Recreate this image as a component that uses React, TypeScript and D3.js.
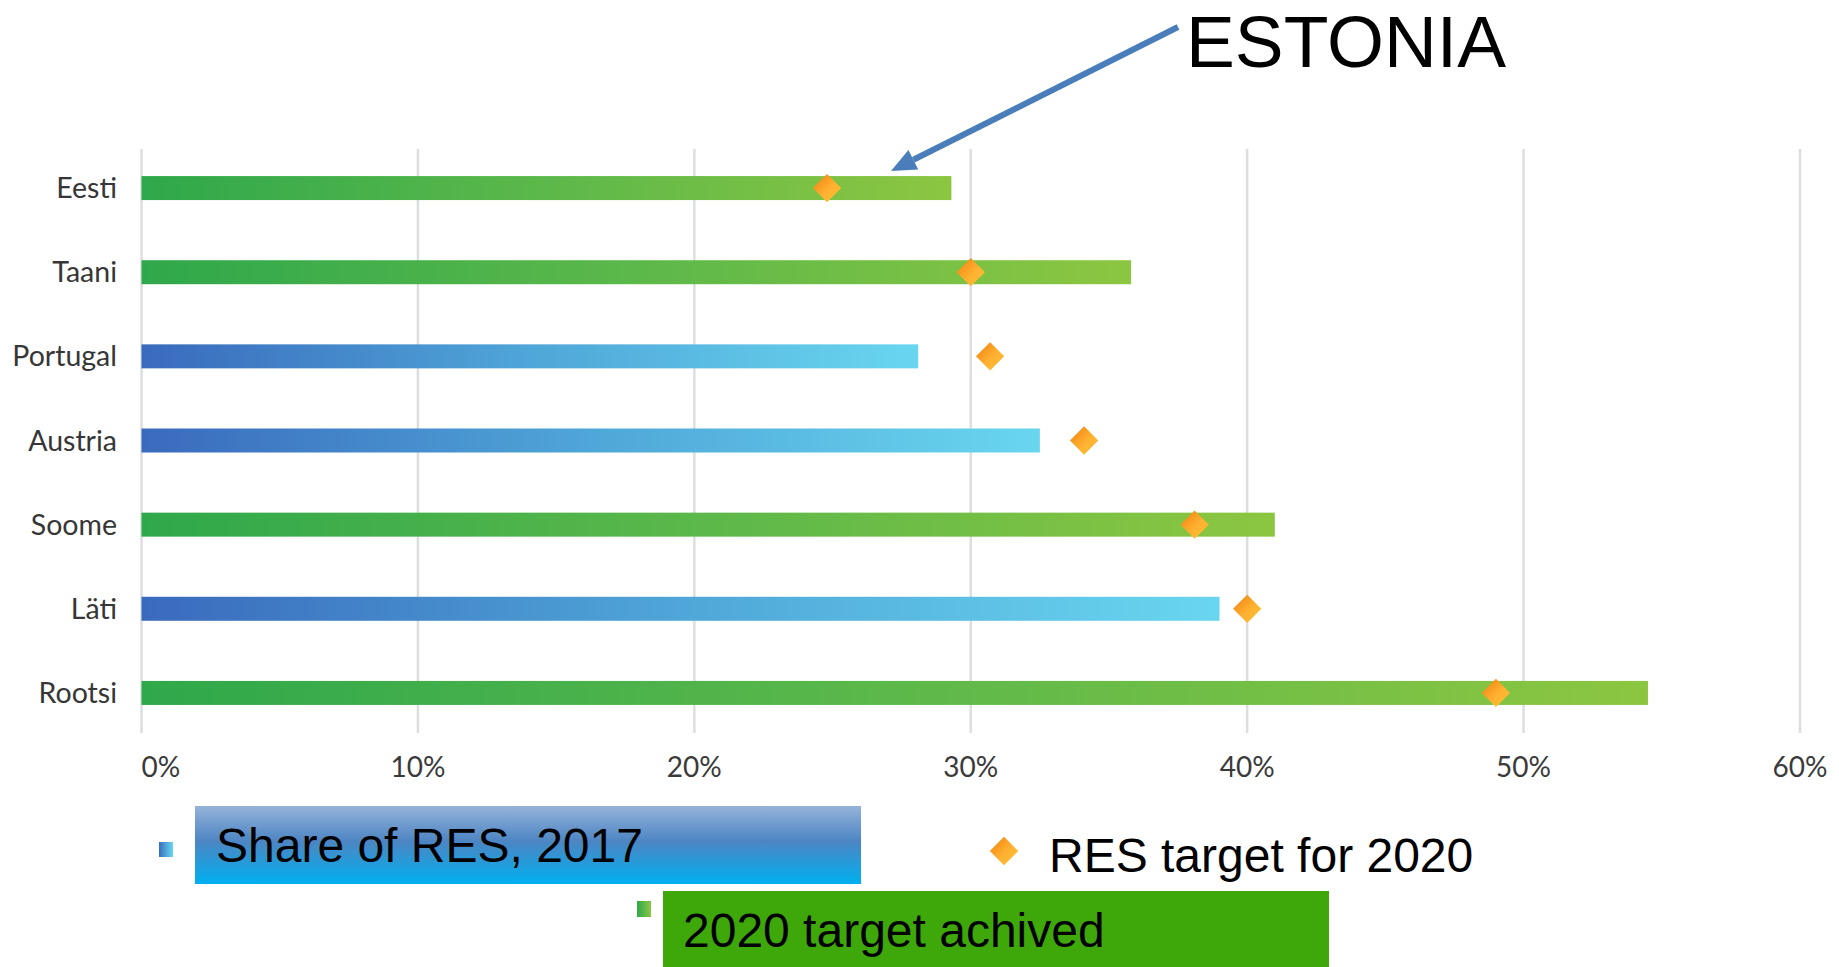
import React from "react";
import * as d3 from "d3";

const categories = ["Eesti", "Taani", "Portugal", "Austria", "Soome", "Läti", "Rootsi"];
const share2017 = [29.3, 35.8, 28.1, 32.5, 41.0, 39.0, 54.5];
const target2020 = [24.8, 30.0, 30.7, 34.1, 38.1, 40.0, 49.0];
const xTicks = [0, 10, 20, 30, 40, 50, 60];
const legendShare = "Share of RES, 2017";
const legendTarget = "RES target for 2020";
const legendAchieved = "2020 target achived";
const annotation = "ESTONIA";

const W = 1839;
const H = 967;

export default function App() {
  const x = d3.scaleLinear().domain([0, 60]).range([141.5, 1800]);
  const y = d3.scaleBand<string>().domain(categories).range([146, 735]).padding(0);
  const barH = 24;
  const diamond = d3.symbol().type(d3.symbolSquare).size(400)();

  // arrow geometry
  const tail: [number, number] = [1178, 27];
  const tip: [number, number] = [891, 171];
  const dx = tip[0] - tail[0];
  const dy = tip[1] - tail[1];
  const len = Math.hypot(dx, dy);
  const ux = dx / len;
  const uy = dy / len;
  const headL = 25;
  const headW = 11;
  const bx = tip[0] - ux * headL;
  const by = tip[1] - uy * headL;
  const nx = -uy;
  const ny = ux;
  const head = `M${tip[0]},${tip[1]} L${bx + nx * headW},${by + ny * headW} L${bx - nx * headW},${by - ny * headW} Z`;

  return (
    <svg
      width={W}
      height={H}
      style={{ position: "absolute", left: 0, top: 0, background: "#fff" }}
    >
      <defs>
        <linearGradient id="gGreen" x1="0" y1="0" x2="1" y2="0">
          <stop offset="0%" stopColor="#2fa84b" />
          <stop offset="50%" stopColor="#5cb84a" />
          <stop offset="100%" stopColor="#8cc641" />
        </linearGradient>
        <linearGradient id="gBlue" x1="0" y1="0" x2="1" y2="0">
          <stop offset="0%" stopColor="#3a6abd" />
          <stop offset="50%" stopColor="#4fa6d8" />
          <stop offset="100%" stopColor="#69d6ef" />
        </linearGradient>
        <linearGradient id="gOrange" x1="0" y1="0" x2="1" y2="0">
          <stop offset="0%" stopColor="#f7941d" />
          <stop offset="60%" stopColor="#ffb131" />
          <stop offset="100%" stopColor="#ffb833" />
        </linearGradient>
        <linearGradient id="gLegendBox" x1="0" y1="0" x2="0" y2="1">
          <stop offset="0%" stopColor="#95b3d9" />
          <stop offset="45%" stopColor="#4d85c3" />
          <stop offset="100%" stopColor="#00b0f0" />
        </linearGradient>
      </defs>

      {/* gridlines */}
      {xTicks.map((t) => (
        <line
          key={"g" + t}
          x1={x(t)}
          x2={x(t)}
          y1={149}
          y2={733}
          stroke="#dcdedf"
          strokeWidth={2.5}
        />
      ))}

      {/* tick labels */}
      {xTicks.map((t) => (
        <text
          key={"t" + t}
          x={x(t)}
          y={777}
          textAnchor={t === 0 ? "start" : "middle"}
          fontFamily="Lato"
          fontSize={28}
          fill="#3a3a3a"
        >
          {t + "%"}
        </text>
      ))}

      {/* bars */}
      {categories.map((c, i) => {
        const cy = (y(c) as number) + y.bandwidth() / 2;
        const achieved = share2017[i] >= target2020[i];
        return (
          <g key={c}>
            <text
              x={117}
              y={cy + 10}
              textAnchor="end"
              fontFamily="Lato"
              fontSize={28.5}
              fill="#363636"
            >
              {c}
            </text>
            <rect
              x={x(0)}
              y={cy - barH / 2}
              width={x(share2017[i]) - x(0)}
              height={barH}
              fill={achieved ? "url(#gGreen)" : "url(#gBlue)"}
            />
          </g>
        );
      })}

      {/* target diamonds */}
      {categories.map((c, i) => {
        const cy = (y(c) as number) + y.bandwidth() / 2;
        return (
          <path
            key={"d" + c}
            d={diamond as string}
            transform={`translate(${x(target2020[i])},${cy}) rotate(45)`}
            fill="url(#gOrange)"
          />
        );
      })}

      {/* annotation */}
      <line
        x1={tail[0]}
        y1={tail[1]}
        x2={bx}
        y2={by}
        stroke="#4a7ebb"
        strokeWidth={6}
      />
      <path d={head} fill="#4a7ebb" />
      <text
        x={1186}
        y={67}
        fontFamily="Liberation Sans, Arial, sans-serif"
        fontSize={73}
        textLength={320}
        lengthAdjust="spacingAndGlyphs"
        fill="#000"
      >
        {annotation}
      </text>

      {/* legend */}
      <rect x={159} y={842} width={14} height={15} fill="url(#gBlue)" />
      <rect x={195} y={806} width={666} height={78} fill="url(#gLegendBox)" />
      <text
        x={216}
        y={862}
        fontFamily="Liberation Sans, Arial, sans-serif"
        fontSize={48}
        fill="#000"
      >
        {legendShare}
      </text>

      <path
        d={diamond as string}
        transform={`translate(1004,851) rotate(45)`}
        fill="url(#gOrange)"
      />
      <text
        x={1049}
        y={872}
        fontFamily="Liberation Sans, Arial, sans-serif"
        fontSize={48}
        fill="#000"
      >
        {legendTarget}
      </text>

      <rect x={637} y={901} width={14} height={16} fill="url(#gGreen)" />
      <rect x={663} y={891} width={666} height={76} fill="#3ea80a" />
      <text
        x={683}
        y={947}
        fontFamily="Liberation Sans, Arial, sans-serif"
        fontSize={48}
        fill="#000"
      >
        {legendAchieved}
      </text>
    </svg>
  );
}
